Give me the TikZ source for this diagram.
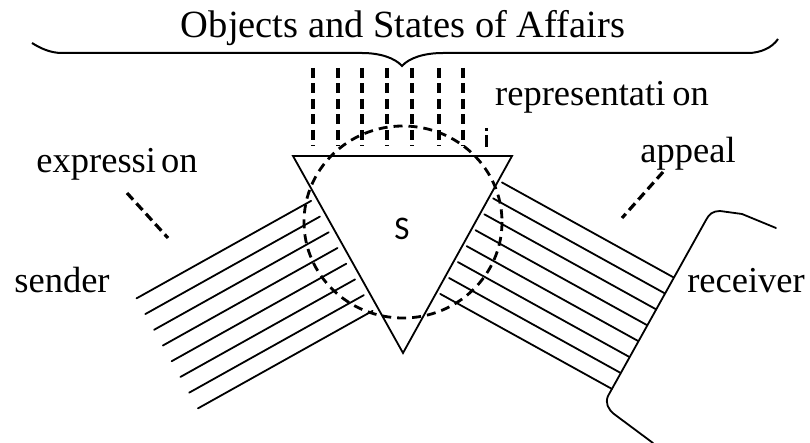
\documentclass[tikz,border=0pt]{standalone}
\usepackage{fontspec}
\setmainfont{Liberation Serif}
\newfontfamily\sfS{Carlito}
\usetikzlibrary{calc}
\tikzset{
  thinline/.style={line width=1.8pt, line cap=round},
  dashline/.style={line width=3.2pt, dash pattern=on 10pt off 5.5pt},
  circdash/.style={line width=2.8pt, dash pattern=on 9pt off 6pt},
  lbl/.style={font=\fontsize{36.5}{40}\selectfont, inner sep=0pt, anchor=base},
}
\begin{document}
\begin{tikzpicture}[x=1pt,y=-1pt]
\useasboundingbox (0,0) rectangle (810,443);
% title and brace
\node[lbl, font=\fontsize{38.5}{42}\selectfont] (title) at (403,38) {Objects and States of Affairs};
\draw[line width=2pt] (32,43) .. controls (40,48) and (50,53) .. (62,53) -- (362,53)
   .. controls (380,53) and (395,58) .. (402,66) .. controls (409,58) and (424,53) .. (443,53)
   -- (748,53) .. controls (760,53) and (772,48) .. (778,39);
% representation dashed lines
\foreach \x in {313,338,362,387,412,439,463} {
  \draw[dashline] (\x,68) -- (\x,146);
}
\draw[line width=3pt] (486,128) -- (486,131);
\draw[line width=3pt] (486,135) -- (486,147);
% triangle
\coordinate (A) at (293,156);
\coordinate (B) at (512,156);
\coordinate (C) at (403,353);
\draw[thinline, line join=miter] (A) -- (B) -- (C) -- cycle;
% left strip (sender)
\foreach \i in {0,...,7} {
  \pgfmathsetmacro{\s}{48+18*\i}
  \pgfmathsetmacro{\rx}{287.76+0.4876*\s}
  \pgfmathsetmacro{\ry}{158.93+0.8732*\s}
  \draw[thinline] (\rx,\ry) -- ++(-174.64,97.52);
}
% right strip (receiver)
\foreach \i in {0,...,7} {
  \pgfmathsetmacro{\s}{28+18.2*\i}
  \pgfmathsetmacro{\sx}{515.5-0.4842*\s}
  \pgfmathsetmacro{\sy}{157.94+0.8751*\s}
  \draw[thinline] (\sx,\sy) -- ++(171.5,94.9);
}
% receiver outline
\draw[thinline] (776,228) -- (742,214) -- (720,211) .. controls (713,211) and (709,214) .. (706,220)
   -- (608,396) .. controls (605,403) and (608,409) .. (614,414) -- (653,443);
% circle
\draw[circdash] (403,222) ellipse [x radius=99, y radius=96];
% label connectors
\draw[dashline, dash pattern=on 9pt off 5pt] (127,193) -- (168,238);
\draw[dashline, dash pattern=on 9pt off 5pt] (663,172) -- (622,218);
% labels
\node[lbl] (expr) at (117,173) {expressi\kern5pt on};
\node[lbl, anchor=base west] (repr) at (495,106) {representati\kern7pt on};
\node[lbl] (appeal) at (688,163) {appeal};
\node[lbl] (sender) at (62,292) {sender};
\node[lbl] (receiver) at (746,292) {receiver};
\node[inner sep=0pt, anchor=base, font=\sfS\fontsize{33}{36}\selectfont] (S) at (402,240) {S};
\end{tikzpicture}
\end{document}
